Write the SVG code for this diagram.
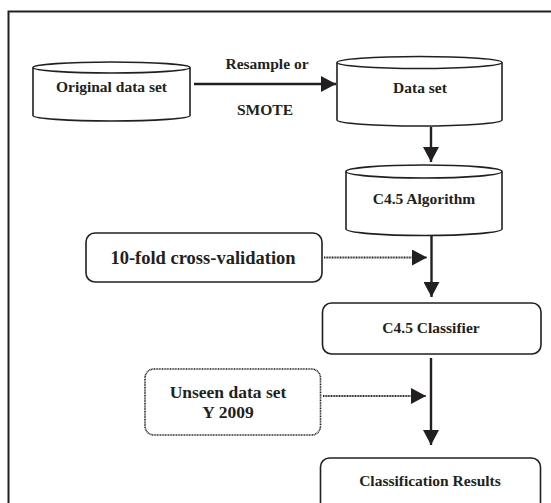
<svg xmlns="http://www.w3.org/2000/svg" width="551" height="503" viewBox="0 0 551 503">
<style>
.sh{fill:#fff;stroke:#231f20;stroke-width:1.6}
.dot{fill:#fff;stroke:#231f20;stroke-width:1.6;stroke-dasharray:1 0.6}
.t{font-family:"Liberation Serif","Times New Roman",serif;font-weight:bold;fill:#231f20;text-anchor:middle;font-size:15.5px}
.ln{stroke:#231f20;stroke-width:2.4;fill:none}
.dl{stroke:#231f20;stroke-width:2.2;fill:none;stroke-dasharray:1 0.6}
</style>
<defs>
<marker id="ah" markerUnits="userSpaceOnUse" markerWidth="16" markerHeight="16" viewBox="0 0 16 16" refX="15" refY="8" orient="auto">
<path d="M0,0 L15,8 L0,16 Z" fill="#231f20"/>
</marker>
</defs>
<rect x="8.5" y="11.5" width="600" height="600" fill="none" stroke="#231f20" stroke-width="2"/>
<g id="connectors">
<line class="ln" x1="194" y1="84" x2="336" y2="84" marker-end="url(#ah)"/>
<line class="ln" x1="431" y1="127" x2="431" y2="162" marker-end="url(#ah)"/>
<line class="ln" x1="431.5" y1="236" x2="431.5" y2="297" marker-end="url(#ah)"/>
<line class="dl" x1="324" y1="257.5" x2="427" y2="257.5" marker-end="url(#ah)"/>
<line class="ln" x1="431" y1="358" x2="431" y2="445" marker-end="url(#ah)"/>
<line class="dl" x1="323" y1="396" x2="426" y2="396" marker-end="url(#ah)"/>
<text class="t" x="267" y="68.5">Resample or</text>
<text class="t" x="265" y="114.5">SMOTE</text>
</g>
<g id="original">
<path class="sh" d="M33,67.5 L33,115.5 A78.5,5.5 0 0 0 190,115.5 L190,67.5"/>
<ellipse class="sh" cx="111.5" cy="67.5" rx="78.5" ry="5.5"/>
<text class="t" x="111.5" y="92">Original data set</text>
</g>
<g id="dataset">
<path class="sh" d="M337,62.5 L337,120 A82.5,6 0 0 0 502,120 L502,62.5"/>
<ellipse class="sh" cx="419.5" cy="62.5" rx="82.5" ry="6"/>
<text class="t" x="420" y="93">Data set</text>
</g>
<g id="algorithm">
<path class="sh" d="M346,171.5 L346,229 A78,6.5 0 0 0 502,229 L502,171.5"/>
<ellipse class="sh" cx="424" cy="171.5" rx="78" ry="6.5"/>
<text class="t" x="424" y="204">C4.5 Algorithm</text>
</g>
<g id="crossval">
<rect class="sh" x="86" y="233" width="236" height="49" rx="9"/>
<text class="t" x="203" y="263.5" style="font-size:18.5px">10-fold cross-validation</text>
</g>
<g id="classifier">
<rect class="sh" x="322.5" y="303" width="218.5" height="51" rx="9"/>
<text class="t" x="431" y="333">C4.5 Classifier</text>
</g>
<g id="unseen">
<rect class="dot" x="145" y="369" width="175.5" height="66" rx="9"/>
<text class="t" x="228" y="398" style="font-size:17.5px">Unseen data set</text>
<text class="t" x="228" y="418" style="font-size:17.5px">Y 2009</text>
</g>
<g id="results">
<rect class="sh" x="320.5" y="458" width="220" height="60" rx="9"/>
<text class="t" x="430" y="486">Classification Results</text>
</g>
</svg>
